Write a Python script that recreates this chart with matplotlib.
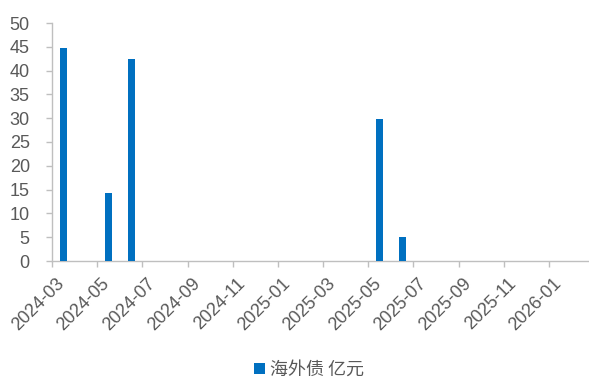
import matplotlib
matplotlib.use("Agg")
import matplotlib.pyplot as plt
import matplotlib.transforms as mtransforms
from matplotlib.patches import Patch

plt.rcParams['font.family'] = ['Liberation Sans', 'Noto Sans CJK SC', 'DejaVu Sans']

months = ["2024-03", "2024-04", "2024-05", "2024-06", "2024-07", "2024-08",
          "2024-09", "2024-10", "2024-11", "2024-12", "2025-01", "2025-02",
          "2025-03", "2025-04", "2025-05", "2025-06", "2025-07", "2025-08",
          "2025-09", "2025-10", "2025-11", "2025-12", "2026-01", "2026-02"]
values = [44.7, 0, 14.3, 42.4, 0, 0,
          0, 0, 0, 0, 0, 0,
          0, 0, 29.9, 5.0, 0, 0,
          0, 0, 0, 0, 0, 0]
series_name = "海外债 亿元"
yticks = [0, 5, 10, 15, 20, 25, 30, 35, 40, 45, 50]

bar_color = "#0070C0"
axis_color = "#BFBFBF"
text_color = "#595959"

fig = plt.figure(figsize=(5.89, 3.85), dpi=100)
ax = fig.add_axes([52/589, 1-261/385, 1-52/589 + 0.005, (261-23)/385])

pos = [i + 0.5 for i in range(len(months))]
ax.bar(pos, values, width=0.31, color=bar_color, zorder=3)

ax.set_ylim(0, 50)
ax.set_xlim(0, 23.9)
ax.set_yticks(yticks)
ax.set_yticklabels([str(v) for v in yticks], fontsize=13, color=text_color)

tick_idx = list(range(0, len(months), 2))
ax.set_xticks(tick_idx)
ax.set_xticklabels([])
base = mtransforms.blended_transform_factory(ax.transData, ax.transAxes)
offset = mtransforms.ScaledTranslation(10/100, -20/100, fig.dpi_scale_trans)
for i in tick_idx:
    ax.text(i, 0, months[i], transform=base + offset, fontsize=13, color=text_color,
            rotation=45, ha='right', va='center', rotation_mode='anchor', clip_on=False)

for s in ['top', 'right']:
    ax.spines[s].set_visible(False)
for s in ['left', 'bottom']:
    ax.spines[s].set_color(axis_color)
    ax.spines[s].set_linewidth(1.0)
ax.tick_params(axis='y', length=4, width=1.0, color=axis_color, pad=12)
ax.tick_params(axis='x', length=4, width=1.0, color=axis_color, pad=0)

handle = Patch(facecolor=bar_color, edgecolor='none')
fig.legend([handle], [series_name], loc='center', bbox_to_anchor=(309/589, 1-370/385),
           frameon=False, labelcolor=text_color,
           handlelength=0.6, handleheight=0.6, handletextpad=0.3,
           prop={'family': ['Noto Sans CJK SC', 'DejaVu Sans'], 'size': 13})

fig.savefig("out.png", dpi=100)
